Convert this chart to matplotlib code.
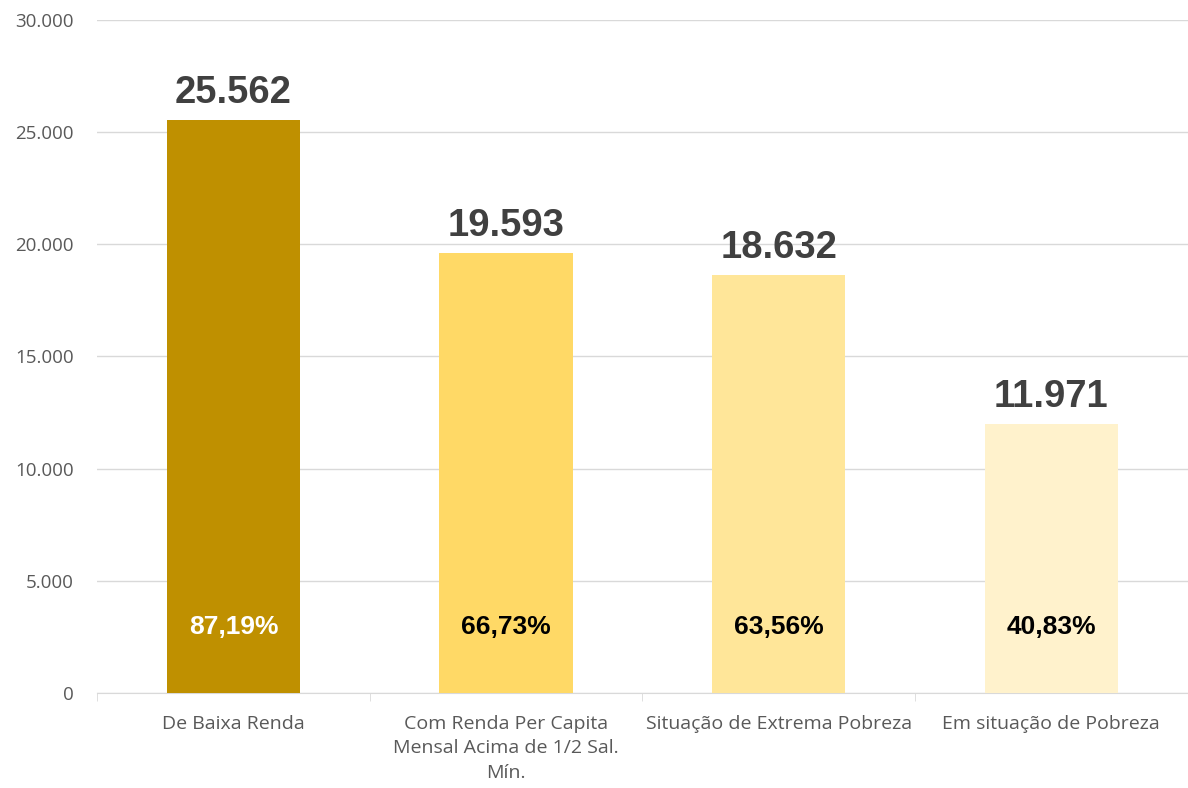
import matplotlib
matplotlib.use('Agg')
import matplotlib.pyplot as plt
import numpy as np

categorias = ['De Baixa Renda',
              'Com Renda Per Capita\nMensal Acima de 1/2 Sal.\nMín.',
              'Situação de Extrema Pobreza',
              'Em situação de Pobreza']
valores = [25562, 19593, 18632, 11971]
percentuais = ['87,19%', '66,73%', '63,56%', '40,83%']
cores = ['#BF9000', '#FFD966', '#FFE699', '#FFF2CC']
cores_pct = ['white', 'black', 'black', 'black']

def milhar(v):
    return '{:,.0f}'.format(v).replace(',', '.')

fig = plt.figure(figsize=(11.88, 7.88), dpi=100)
ax = fig.add_axes([0.0817, 0.1206, 0.918, 0.854])

x = np.arange(len(categorias))
ax.bar(x, valores, width=0.49, color=cores, zorder=3)

for i in range(len(x)):
    ax.text(x[i], valores[i] + 400, milhar(valores[i]), ha='center', va='bottom',
            fontsize=27.5, fontweight='bold', color='#404040', family='Liberation Sans')
    ax.text(x[i], 2950, percentuais[i], ha='center', va='center',
            fontsize=19, fontweight='bold', color=cores_pct[i], family='Liberation Sans')

ax.set_xlim(-0.5, len(x) - 0.5)
ax.set_ylim(0, 30000)
ax.set_yticks(range(0, 30001, 5000))
ax.set_yticklabels([milhar(v) for v in range(0, 30001, 5000)])
ax.yaxis.grid(True, color='#D9D9D9', linewidth=1, zorder=0)
ax.set_axisbelow(True)

ax.set_xticks(x)
ax.set_xticklabels(categorias, fontsize=14, color='#595959', family='Open Sans', linespacing=1.45)
ax.set_xticks(np.arange(-0.5, len(x)), minor=True)
ax.tick_params(axis='x', which='major', length=0, pad=16)
ax.tick_params(axis='x', which='minor', length=6, color='#D9D9D9')
ax.tick_params(axis='y', length=0, labelsize=13.5, labelcolor='#595959', pad=17)
for lab in ax.get_yticklabels():
    lab.set_family('Open Sans')

for s in ['top', 'right', 'left']:
    ax.spines[s].set_visible(False)
ax.spines['bottom'].set_color('#D9D9D9')

plt.savefig('out.png', dpi=100)
